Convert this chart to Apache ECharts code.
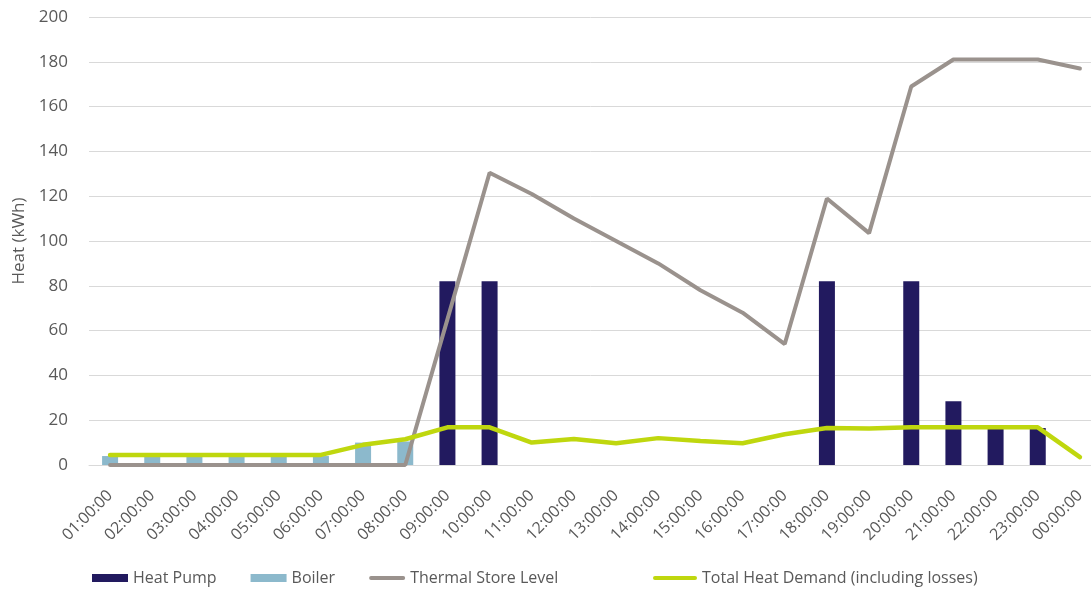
<!DOCTYPE html>
<html>
<head>
<meta charset="utf-8">
<script src="https://cdn.jsdelivr.net/npm/echarts@6/dist/echarts.min.js"></script>
<style>
  html, body { margin: 0; padding: 0; background: #ffffff; overflow: hidden; }
  #chart { width: 1091px; height: 590px; }
</style>
</head>
<body>
<div id="chart"></div>
<script>
// Hourly heat balance for one day (kWh)
const hours = ['01:00:00','02:00:00','03:00:00','04:00:00','05:00:00','06:00:00','07:00:00','08:00:00',
  '09:00:00','10:00:00','11:00:00','12:00:00','13:00:00','14:00:00','15:00:00','16:00:00',
  '17:00:00','18:00:00','19:00:00','20:00:00','21:00:00','22:00:00','23:00:00','00:00:00'];

const heatPump = [0,0,0,0,0,0,0,0, 82,82,0,0,0,0,0,0, 0,82,0,82,28.5,16.5,16.5,0];
const boiler   = [4,4,4,4,4,4,10,10.5, 0,0,0,0,0,0,0,0, 0,0,0,0,0,0,0,0];
const thermalStore = [0,0,0,0,0,0,0,0, 65,130.5,121,110,100,90,78,68, 54,119,103.5,169,181,181,181,177];
const totalDemand  = [4.5,4.5,4.5,4.5,4.5,4.5,9,11.5, 16.8,16.8,10,11.6,9.7,12,10.7,9.7, 13.7,16.5,16.3,16.8,16.8,16.8,16.8,3.5];

const yTicks = { min: 0, max: 200, step: 20 };

const txt = '#595959';
const font = 'Open Sans';
const colors = { pump: '#221a5f', boiler: '#8cb9cc', store: '#9a928d', demand: '#bfd70e' };

// thin rounded bar used as the legend key for line series
const lineKey = w => `path://M2,0 L${w - 2},0 A2,2 0 0 1 ${w - 2},4 L2,4 A2,2 0 0 1 2,0 Z`;

const chart = echarts.init(document.getElementById('chart'));
chart.setOption({
  animation: false,
  backgroundColor: '#ffffff',
  grid: { left: 89, top: 17, width: 1012, height: 448, containLabel: false, outerBoundsMode: 'none' },
  legend: [
    {
      left: 92, top: 570, padding: 0, itemWidth: 36, itemHeight: 8, itemGap: 34,
      textStyle: { color: txt, fontSize: 16, fontFamily: font },
      data: [
        { name: 'Heat Pump', icon: 'rect' },
        { name: 'Boiler', icon: 'rect' },
        { name: 'Thermal Store Level', icon: lineKey(38), itemStyle: { color: colors.store } }
      ]
    },
    {
      left: 653, top: 570, padding: 0, itemWidth: 44, itemHeight: 8,
      textStyle: { color: txt, fontSize: 16, fontFamily: font },
      data: [{ name: 'Total Heat Demand (including losses)', icon: lineKey(44), itemStyle: { color: colors.demand } }]
    }
  ],
  xAxis: {
    type: 'category',
    data: hours,
    axisLine: { show: true, lineStyle: { color: '#d9d9d9', width: 1 } },
    axisTick: { show: false },
    axisLabel: { rotate: 45, color: txt, fontSize: 16, fontFamily: font, margin: 28, interval: 0 }
  },
  yAxis: {
    type: 'value',
    min: yTicks.min, max: yTicks.max, interval: yTicks.step,
    name: 'Heat (kWh)', nameLocation: 'middle', nameGap: 60,
    nameTextStyle: { color: txt, fontSize: 17, fontFamily: font },
    axisLine: { show: false },
    axisTick: { show: false },
    axisLabel: { color: txt, fontSize: 17, fontFamily: font, margin: 21 },
    splitLine: { lineStyle: { color: '#d9d9d9', width: 1 } }
  },
  series: [
    {
      name: 'Heat Pump', type: 'bar', stack: 'heat', data: heatPump,
      barWidth: 16, itemStyle: { color: colors.pump }
    },
    {
      name: 'Boiler', type: 'bar', stack: 'heat', data: boiler,
      barWidth: 16, itemStyle: { color: colors.boiler }
    },
    {
      name: 'Thermal Store Level', type: 'line', data: thermalStore,
      symbol: 'none', lineStyle: { color: colors.store, width: 4, cap: 'round' },
      itemStyle: { color: colors.store }, z: 3
    },
    {
      name: 'Total Heat Demand (including losses)', type: 'line', data: totalDemand,
      symbol: 'none', lineStyle: { color: colors.demand, width: 4.5, cap: 'round' },
      itemStyle: { color: colors.demand }, z: 4
    }
  ]
});
</script>
</body>
</html>
